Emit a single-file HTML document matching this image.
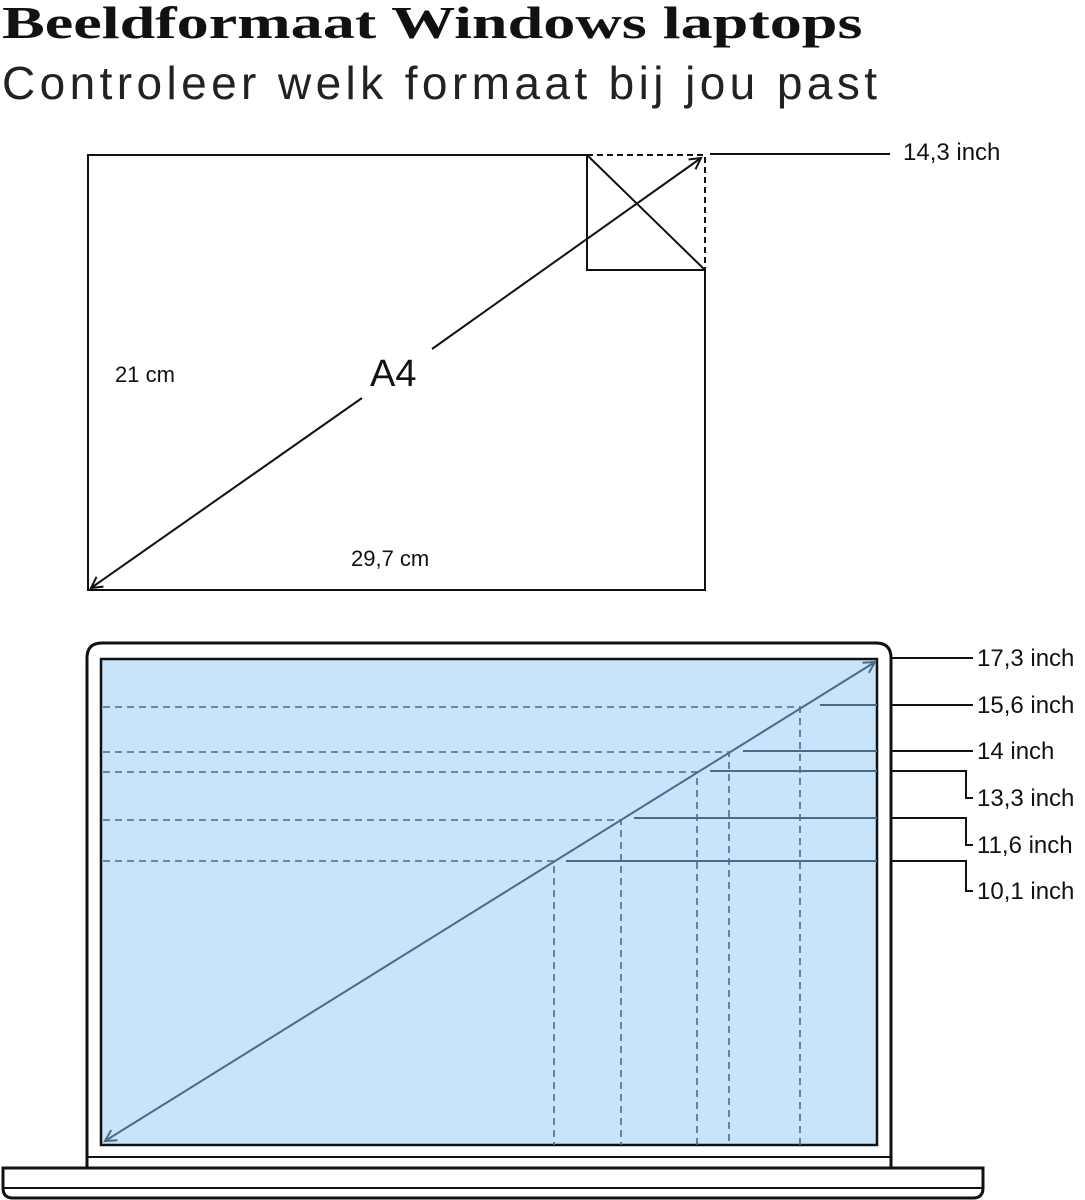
<!DOCTYPE html>
<html><head><meta charset="utf-8"><style>
body{margin:0;background:#fff;width:1085px;height:1200px;overflow:hidden;position:relative;font-family:"Liberation Sans",sans-serif}
.t1{position:absolute;left:2px;top:-4px;font-family:"Liberation Serif",serif;font-weight:bold;font-size:46px;color:#111;transform:scaleX(1.395);transform-origin:0 0;white-space:nowrap}
.t2{position:absolute;left:2px;top:56px;font-size:46px;color:#222;font-weight:normal;letter-spacing:4.4px;white-space:nowrap}
</style></head><body>
<div class="t1">Beeldformaat Windows laptops</div>
<div class="t2">Controleer welk formaat bij jou past</div>
<svg width="1085" height="1200" style="position:absolute;left:0;top:0" font-family="Liberation Sans, sans-serif">
<defs>
<marker id="ak" markerWidth="14" markerHeight="14" refX="12" refY="7" orient="auto" markerUnits="userSpaceOnUse"><path d="M1,1 L12,7 L1,13" fill="none" stroke="#111" stroke-width="2"/></marker>
<marker id="ab" markerWidth="14" markerHeight="14" refX="12" refY="7" orient="auto-start-reverse" markerUnits="userSpaceOnUse"><path d="M1,1 L12,7 L1,13" fill="none" stroke="#4a6a8a" stroke-width="2"/></marker>
<marker id="ak2" markerWidth="14" markerHeight="14" refX="12" refY="7" orient="auto-start-reverse" markerUnits="userSpaceOnUse"><path d="M1,1 L12,7 L1,13" fill="none" stroke="#111" stroke-width="2"/></marker>
</defs>
<g stroke="#111" stroke-width="2" fill="none">
<path d="M587,155 L88,155 L88,590 L705,590 L705,270 L587,270 Z"/>
<path d="M587,155 L705,270"/>
<path d="M587,155 L705,155 L705,270" stroke-dasharray="6,4"/>
<path d="M710,154 L890,154"/>
<line x1="91" y1="588" x2="362" y2="398" marker-start="url(#ak2)"/>
<line x1="432" y1="349" x2="701" y2="158" marker-end="url(#ak)"/>
</g>
<text x="115" y="382" font-size="22" fill="#111">21 cm</text>
<text x="351" y="566" font-size="22" fill="#111">29,7 cm</text>
<text x="370" y="386" font-size="38" fill="#111">A4</text>
<text x="903" y="160" font-size="24" fill="#111">14,3 inch</text>
<path d="M87,1168 L87,658 Q87,643 102,643 L876,643 Q891,643 891,658 L891,1168" fill="#fff" stroke="#111" stroke-width="3"/>
<rect x="101" y="659" width="776" height="486" fill="#c7e4fb" stroke="#111" stroke-width="2.5"/>
<line x1="88" y1="1157" x2="890" y2="1157" stroke="#111" stroke-width="2"/>
<path d="M3,1168 L983,1168 L983,1188 Q983,1198 973,1198 L13,1198 Q3,1198 3,1188 Z" fill="#fff" stroke="#111" stroke-width="3"/>
<line x1="3" y1="1188" x2="983" y2="1188" stroke="#111" stroke-width="2"/>
<g stroke="#4a6a8a" stroke-width="1.6" stroke-dasharray="7,5" fill="none">
<path d="M103,707 H800 V1145"/>
<path d="M103,752 H729 V1145"/>
<path d="M103,772 H697 V1145"/>
<path d="M103,820 H621 V1145"/>
<path d="M103,861 H554 V1145"/>
</g>
<line x1="105" y1="1141" x2="875" y2="662" stroke="#4a6a8a" stroke-width="2" marker-start="url(#ab)" marker-end="url(#ab)"/>
<g stroke="#4a6a8a" stroke-width="2" fill="none">
<path d="M820,705 H877"/><path d="M743,751 H877"/><path d="M710,771 H877"/><path d="M634,818 H877"/><path d="M566,861 H877"/>
</g>
<g stroke="#111" stroke-width="2" fill="none">
<path d="M891,658 H973"/><path d="M891,705 H973"/><path d="M891,751 H973"/>
<path d="M891,771 H966 V798 H973"/><path d="M891,818 H966 V845 H973"/><path d="M891,861 H966 V891 H973"/>
</g>
<g font-size="24" fill="#111">
<text x="977" y="666">17,3 inch</text>
<text x="977" y="713">15,6 inch</text>
<text x="977" y="759">14 inch</text>
<text x="977" y="806">13,3 inch</text>
<text x="977" y="853">11,6 inch</text>
<text x="977" y="899">10,1 inch</text>
</g>
</svg>
</body></html>
